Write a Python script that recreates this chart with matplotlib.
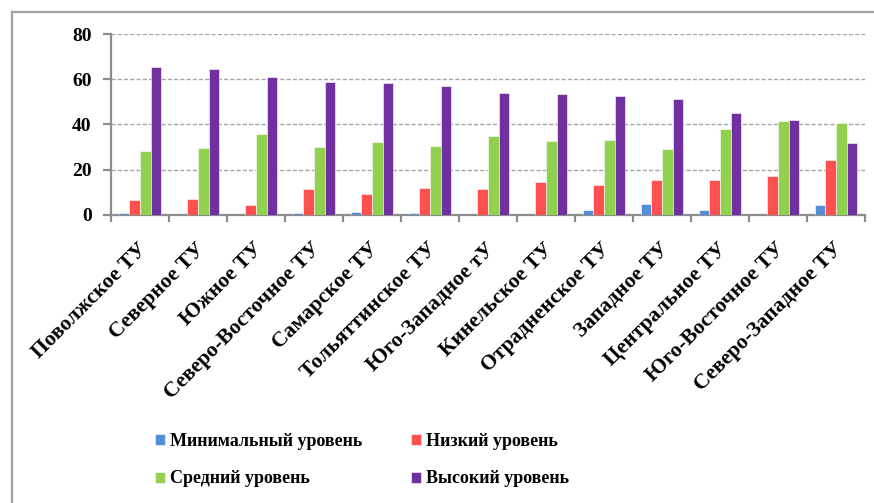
import matplotlib
matplotlib.use("Agg")
import matplotlib.pyplot as plt
from matplotlib.lines import Line2D
from matplotlib.transforms import ScaledTranslation
import numpy as np

# territorial units and percentage by level
units = ["Поволжское ТУ", "Северное ТУ", "Южное ТУ", "Северо-Восточное ТУ",
         "Самарское ТУ", "Тольяттинское ТУ", "Юго-Западное тУ", "Кинельское ТУ",
         "Отрадненское ТУ", "Западное ТУ", "Центральное ТУ", "Юго-Восточное ТУ",
         "Северо-Западное ТУ"]
minimal = [0.7, 0.0, 0.0, 0.7, 1.2, 0.7, 0.0, 0.0, 2.2, 5.0, 2.2, 0.0, 4.4]
low = [6.5, 7.1, 4.4, 11.3, 9.3, 11.9, 11.3, 14.6, 13.1, 15.6, 15.6, 17.2, 24.2]
medium = [28.4, 29.6, 35.9, 30.0, 32.3, 30.5, 34.8, 32.7, 33.3, 29.0, 38.0, 41.7, 40.5]
high = [65.2, 64.7, 61.0, 58.8, 58.3, 57.1, 54.0, 53.5, 52.4, 51.4, 44.9, 41.8, 31.7]

names = ["Минимальный уровень", "Низкий уровень", "Средний уровень", "Высокий уровень"]
colors = ["#558ED5", "#FF5050", "#92D050", "#7030A0"]

font = "Liberation Serif"
fig = plt.figure(figsize=(8.74, 5.03), dpi=100)
ax = fig.add_axes([0.127, 0.5726, 0.8627, 0.3598])

x = np.arange(len(units))
w = 0.185
series = [minimal, low, medium, high]
handles = []
for i, (vals, c) in enumerate(zip(series, colors)):
    b = ax.bar(x + (i - 1.5) * w, vals, w, color=c, edgecolor="white",
               linewidth=0.4, zorder=3, label=names[i])
    handles.append(b)

ax.set_xlim(-0.5, len(units) - 0.5)
ax.set_ylim(0, 80)
ax.set_yticks([0, 20, 40, 60, 80])
ax.yaxis.grid(True, linestyle=(0, (3, 1.5)), color="#A6A6A6", linewidth=1.0)
ax.set_axisbelow(True)

for s in ["top", "right"]:
    ax.spines[s].set_visible(False)
for s in ["left", "bottom"]:
    ax.spines[s].set_color("#8C8C8C")
    ax.spines[s].set_linewidth(1.6)

ax.tick_params(axis="y", length=6, width=1.6, color="#8C8C8C", pad=8)
for lab in ax.get_yticklabels():
    lab.set_fontfamily(font)
    lab.set_fontweight("bold")
    lab.set_fontsize(14)

# category boundaries carry the x ticks
ax.set_xticks(np.arange(-0.5, len(units)), minor=True)
ax.set_xticks(x)
ax.tick_params(axis="x", which="minor", length=5, width=1.6, color="#8C8C8C")
ax.tick_params(axis="x", which="major", length=0, pad=0)
ax.set_xticklabels(units, rotation=45, ha="right", va="top",
                   rotation_mode="anchor", fontfamily=font,
                   fontweight="bold", fontsize=15.5)
shift = ScaledTranslation(-0.03, -0.24, fig.dpi_scale_trans)
for lab in ax.get_xticklabels():
    lab.set_transform(lab.get_transform() + shift)

# legend is filled column-wise, so order the entries to read row by row
order = [0, 2, 1, 3]
fig.legend(handles=[handles[k] for k in order], labels=[names[k] for k in order],
           ncol=2, loc="upper left", bbox_to_anchor=(0.1585, 0.172),
           frameon=False, prop={"family": font, "weight": "bold", "size": 13},
           handlelength=0.55, handleheight=0.55, handletextpad=0.3,
           columnspacing=2.68, labelspacing=1.15)

# outer frame
fig.add_artist(Line2D([12 / 874, 12 / 874], [0, 1 - 12 / 503],
                      transform=fig.transFigure, color="#A0A0A0", linewidth=1.6))
fig.add_artist(Line2D([12 / 874, 1], [1 - 12 / 503, 1 - 12 / 503],
                      transform=fig.transFigure, color="#A0A0A0", linewidth=1.6))

fig.savefig("out.png", dpi=100)
